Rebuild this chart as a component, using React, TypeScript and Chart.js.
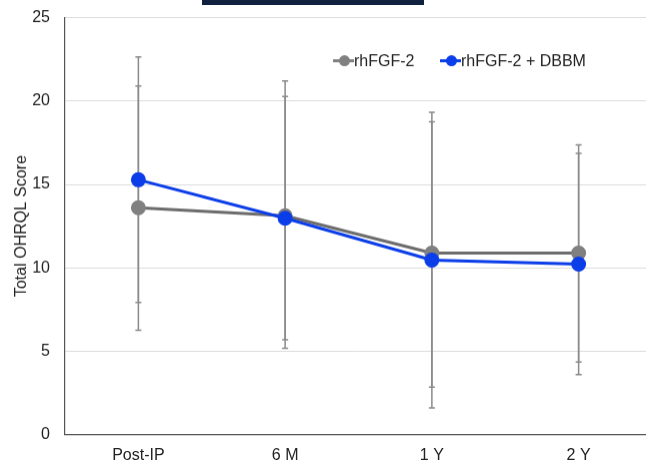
import React, { useEffect, useRef } from "react";
import { Chart, registerables } from "chart.js";

Chart.register(...registerables);

const categories = ["Post-IP", "6 M", "1 Y", "2 Y"];
const yTicks = [0, 5, 10, 15, 20, 25];

const seriesGrayName = "rhFGF-2";
const seriesGray = [13.6, 13.12, 10.88, 10.88];
const seriesGrayHigh = [20.9, 21.2, 19.33, 17.37];
const seriesGrayLow = [6.25, 5.17, 1.6, 3.59];

const seriesBlueName = "rhFGF-2 + DBBM";
const seriesBlue = [15.28, 12.97, 10.46, 10.22];
const seriesBlueHigh = [22.65, 20.27, 18.75, 16.87];
const seriesBlueLow = [7.93, 5.69, 2.84, 4.35];

const FONT = "'Liberation Sans', Arial, Helvetica, sans-serif";
const GRAY = "#808080";
const GRAY_LINE = "#6c6c6c";
const BLUE = "#0b3de8";

const errorBarPlugin = {
  id: "errorBars",
  beforeDatasetsDraw(chart: any) {
    const { ctx, scales } = chart;
    const x = scales.x;
    const y = scales.y;
    const sets = [
      [seriesGrayLow, seriesGrayHigh],
      [seriesBlueLow, seriesBlueHigh],
    ];
    ctx.save();
    ctx.strokeStyle = "#8a8a8a";
    ctx.lineWidth = 1.5;
    sets.forEach(([lows, highs]) => {
      lows.forEach((lo: number, i: number) => {
        const hi = highs[i];
        const px = x.getPixelForValue(i);
        const pLo = y.getPixelForValue(lo);
        const pHi = y.getPixelForValue(hi);
        ctx.beginPath();
        ctx.moveTo(px, pLo);
        ctx.lineTo(px, pHi);
        ctx.moveTo(px - 3, pLo);
        ctx.lineTo(px + 3, pLo);
        ctx.moveTo(px - 3, pHi);
        ctx.lineTo(px + 3, pHi);
        ctx.stroke();
      });
    });
    ctx.restore();
  },
};

const legendPlugin = {
  id: "insideLegend",
  afterDraw(chart: any) {
    const { ctx } = chart;
    const items = [
      { label: seriesGrayName, color: GRAY, x: 333 },
      { label: seriesBlueName, color: BLUE, x: 440 },
    ];
    const cy = 61 + 6.6;
    ctx.save();
    items.forEach((it) => {
      ctx.strokeStyle = it.color;
      ctx.lineWidth = 3;
      ctx.beginPath();
      ctx.moveTo(it.x, cy);
      ctx.lineTo(it.x + 21, cy);
      ctx.stroke();
      ctx.fillStyle = it.color;
      ctx.beginPath();
      ctx.arc(it.x + 11.5, cy, 5.5, 0, Math.PI * 2);
      ctx.fill();
      ctx.fillStyle = "#222";
      ctx.font = `16px ${FONT}`;
      ctx.textBaseline = "middle";
      ctx.textAlign = "left";
      ctx.fillText(it.label, it.x + 21, cy + 1);
    });
    ctx.restore();
  },
};

export default function App() {
  const ref = useRef<HTMLCanvasElement | null>(null);

  useEffect(() => {
    if (!ref.current) return;
    const chart = new Chart(ref.current, {
      type: "line",
      data: {
        labels: categories,
        datasets: [
          {
            label: seriesGrayName,
            data: seriesGray,
            borderColor: GRAY_LINE,
            backgroundColor: GRAY,
            pointBackgroundColor: GRAY,
            pointBorderColor: GRAY,
            borderWidth: 3,
            pointRadius: 6,
            order: 1,
          },
          {
            label: seriesBlueName,
            data: seriesBlue,
            borderColor: BLUE,
            backgroundColor: BLUE,
            pointBackgroundColor: BLUE,
            pointBorderColor: BLUE,
            borderWidth: 3,
            pointRadius: 6,
            order: 0,
          },
        ],
      },
      options: {
        responsive: true,
        maintainAspectRatio: false,
        animation: false,
        layout: { padding: { top: 5.4, left: 0, right: 0, bottom: 0 } },
        plugins: {
          legend: { display: false },
          tooltip: { enabled: false },
        },
        scales: {
          x: {
            offset: true,
            grid: { display: false, drawTicks: false },
            border: { display: true, color: "#555", width: 1.2 },
            ticks: {
              padding: 11,
              color: "#222",
              font: { family: FONT, size: 16 },
            },
            afterFit(scale: any) {
              scale.height = 28;
            },
          },
          y: {
            min: 0,
            max: 25,
            afterBuildTicks(scale: any) {
              scale.ticks = yTicks.map((v) => ({ value: v }));
            },
            grid: { color: "#dcdcdc", lineWidth: 1, drawTicks: false },
            border: { display: true, color: "#555", width: 1.2 },
            ticks: {
              padding: 15,
              color: "#222",
              font: { family: FONT, size: 16 },
            },
            title: {
              display: true,
              text: "Total OHRQL Score",
              color: "#222",
              font: { family: FONT, size: 16 },
              padding: { top: 12, bottom: 0 },
            },
            afterFit(scale: any) {
              scale.width = 65;
            },
          },
        },
      },
      plugins: [errorBarPlugin, legendPlugin],
    });
    return () => chart.destroy();
  }, []);

  return (
    <>
      <style>{`body{margin:0;background:#fff;}`}</style>
      <div
        style={{
          position: "relative",
          width: 646,
          height: 462,
          overflow: "hidden",
          background: "#fff",
        }}
      >
        <div style={{ position: "absolute", left: 0, top: -6.6, width: 661, height: 468.6 }}>
          <canvas ref={ref} />
        </div>
        <div
          style={{
            position: "absolute",
            left: 202,
            top: 0,
            width: 222,
            height: 5,
            background: "#10203f",
          }}
        />
      </div>
    </>
  );
}
